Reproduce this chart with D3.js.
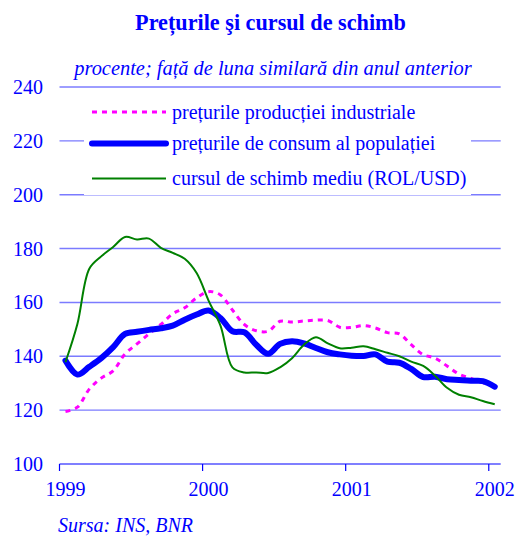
<!DOCTYPE html>
<html>
<head>
<meta charset="utf-8">
<script src="https://cdn.jsdelivr.net/npm/d3@7"></script>
<style>
  body { margin:0; background:#fff; }
  svg { font-family: "Liberation Serif", "Times New Roman", serif; }
</style>
</head>
<body>
<svg id="chart" width="516" height="537"></svg>
<script>
// months Jan 1999 .. Jan 2002
const months = [
  '1999-01','1999-02','1999-03','1999-04','1999-05','1999-06','1999-07','1999-08','1999-09','1999-10','1999-11','1999-12',
  '2000-01','2000-02','2000-03','2000-04','2000-05','2000-06','2000-07','2000-08','2000-09','2000-10','2000-11','2000-12',
  '2001-01','2001-02','2001-03','2001-04','2001-05','2001-06','2001-07','2001-08','2001-09','2001-10','2001-11','2001-12',
  '2002-01'
];
const yearLabels = ['1999','2000','2001','2002'];
const yTicks = [100,120,140,160,180,200,220,240];

// preturile productiei industriale
const ppi = [119.5,121.1,127.8,131.9,134.6,140.9,144.6,148.3,151.8,155.8,158.0,161.7,
  164.0,162.8,157.2,151.8,149.5,149.3,153.0,152.7,153.1,153.4,153.3,150.8,
  150.7,151.4,150.5,148.8,148.3,144.3,140.6,139.3,136.4,133.4,131.8,130.2,128.8];
// preturile de consum al populatiei
const cpi = [138.4,133.2,136.1,139.3,143.4,148.3,149.1,149.8,150.4,151.4,153.6,155.5,
  157.0,154.2,149.3,148.9,144.3,140.9,144.6,145.6,144.8,143.1,141.5,140.7,
  140.2,140.1,140.7,138.0,137.6,135.3,132.3,132.4,131.5,131.2,130.9,130.8,128.7];
// cursul de schimb mediu (ROL/USD)
const fx = [137.8,152.0,172.5,177.1,180.6,184.3,183.4,183.7,180.3,178.4,176.2,170.9,
  160.7,151.4,135.9,134.0,134.0,133.8,135.9,139.3,144.3,147.1,144.8,143.0,
  143.2,143.7,142.6,141.3,140.0,138.0,136.4,132.8,128.3,125.7,124.8,123.4,122.2];

const series = [
  { name:'prețurile producției industriale', values:ppi, color:'#ff00ff', width:3, dash:'5,5', cap:'butt' },
  { name:'prețurile de consum al populației', values:cpi, color:'#0000ff', width:6, dash:null, cap:'round' },
  { name:'cursul de schimb mediu (ROL/USD)', values:fx, color:'#008000', width:2, dash:null, cap:'butt' }
];

const svg = d3.select('#chart');
const blue = '#0000ff';

const x = d3.scaleBand().domain(months).range([59.5, 500.7]).padding(0);
const y = d3.scaleLinear().domain([100,240]).range([464,87]);
const cx = m => x(m) + x.bandwidth()/2;

// title
svg.append('text').attr('x',270.5).attr('y',30).attr('text-anchor','middle')
  .attr('font-size',22.2).attr('font-weight','bold').attr('fill',blue)
  .text('Prețurile şi cursul de schimb');
svg.append('text').attr('x',273).attr('y',75).attr('text-anchor','middle')
  .attr('font-size',20.4).attr('font-style','italic').attr('fill',blue)
  .text('procente; față de luna similară din anul anterior');

// gridlines
svg.append('g').selectAll('line').data(yTicks.filter(d=>d>100)).join('line')
  .attr('x1',59.5).attr('x2',500.7)
  .attr('y1',d=>y(d)).attr('y2',d=>y(d))
  .attr('stroke',d=>d===240?'#3c3cff':'#7b7bff')
  .attr('stroke-width',d=>d===240?1:1.4);

// y labels
svg.append('g').selectAll('text').data(yTicks).join('text')
  .attr('x',43).attr('y',d=>y(d)).attr('dy','0.35em')
  .attr('text-anchor','end').attr('font-size',20).attr('fill',blue)
  .text(d=>d);

// x axis
const jan = months.filter(m=>m.endsWith('-01'));
const xa = svg.append('g');
xa.append('line').attr('x1',59.5).attr('x2',500.7).attr('y1',y(100)).attr('y2',y(100))
  .attr('stroke',blue).attr('stroke-width',1.2);
xa.selectAll('.tk').data(jan).join('line').attr('class','tk')
  .attr('x1',d=>x(d)).attr('x2',d=>x(d)).attr('y1',y(100)).attr('y2',y(100)+7)
  .attr('stroke',blue).attr('stroke-width',1.2);
xa.selectAll('text').data(jan).join('text')
  .attr('x',d=>cx(d)).attr('y',496).attr('text-anchor','middle')
  .attr('font-size',20).attr('fill',blue)
  .text((d,i)=>yearLabels[i]);

// legend background
svg.append('rect').attr('x',84).attr('y',96).attr('width',387).attr('height',99)
  .attr('fill','#fff');

// lines
const line = d3.line().x((d,i)=>cx(months[i])).y(d=>y(d)).curve(d3.curveCatmullRom.alpha(0.5));
svg.append('g').selectAll('path').data(series).join('path')
  .attr('d',d=>line(d.values))
  .attr('fill','none')
  .attr('stroke',d=>d.color)
  .attr('stroke-width',d=>d.width)
  .attr('stroke-dasharray',d=>d.dash)
  .attr('stroke-linecap',d=>d.cap)
  .attr('stroke-linejoin','round');

// legend
const ly = [112, 143.5, 178.5];
const lg = svg.append('g').selectAll('g').data(series).join('g')
  .attr('transform',(d,i)=>`translate(0,${ly[i]})`);
lg.append('line').attr('x1',92).attr('x2',166).attr('y1',0).attr('y2',0)
  .attr('stroke',d=>d.color).attr('stroke-width',d=>d.width)
  .attr('stroke-dasharray',d=>d.dash).attr('stroke-linecap',d=>d.cap);
lg.append('text').attr('x',172).attr('y',6.5)
  .attr('font-size',20).attr('fill',blue).text(d=>d.name);

// source
svg.append('text').attr('x',58).attr('y',532)
  .attr('font-size',20).attr('font-style','italic').attr('fill',blue)
  .text('Sursa: INS, BNR');
</script>
</body>
</html>
